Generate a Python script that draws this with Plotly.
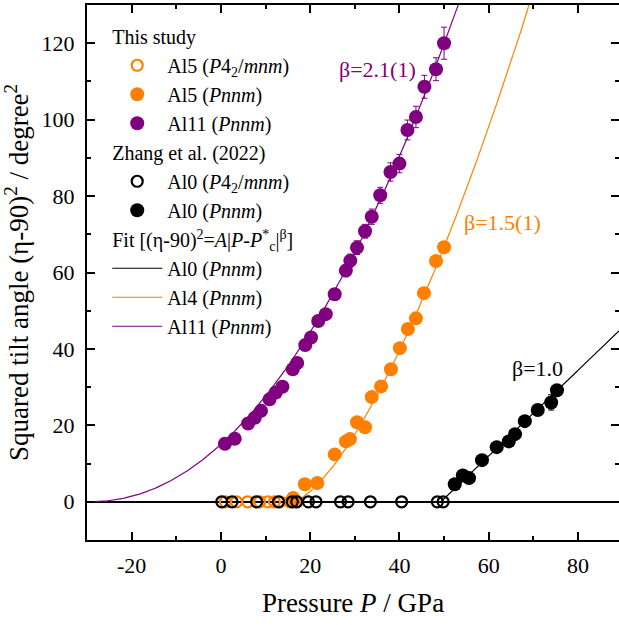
import numpy as np
import plotly.graph_objects as go

# ---------------- data ----------------
# This study: Al5 (P4_2/mnm) - open orange, on the zero line
al5_tet_P = [1.0, 3.5, 6.0, 8.7, 10.5, 12.0, 13.2, 15.5, 16.6]
al5_tet_y = [0, 0, 0, 0, 0, 0, 0, 0, 0]

# This study: Al5 (Pnnm) - filled orange
al5_P = [16.2, 18.8, 21.6, 25.5, 28.0, 28.9, 30.5, 32.3, 33.8, 35.9, 38.1, 40.1, 41.9, 43.7, 45.5, 48.2, 50.0]
al5_y = [1.0, 4.6, 4.9, 12.4, 15.8, 16.4, 20.8, 19.5, 27.4, 30.2, 34.7, 40.2, 45.2, 48.0, 54.6, 63.0, 66.6]
al5_err = [0.6] * 17

# This study: Al11 (Pnnm) - filled purple
al11_P = [0.9, 3.1, 6.1, 7.6, 9.0, 10.9, 12.3, 13.8, 16.1, 17.1, 18.9, 20.2, 21.8, 23.5,
          25.5, 28.0, 29.0, 30.5, 32.3, 33.8, 35.7, 38.0, 40.0, 41.8, 43.7, 45.6, 48.2, 50.0]
al11_y = [15.2, 16.5, 20.5, 22.0, 23.8, 26.8, 28.6, 30.1, 34.7, 36.3, 41.0, 43.0, 47.3, 49.1,
          54.3, 60.5, 63.1, 66.5, 70.8, 74.6, 80.2, 86.3, 88.5, 97.3, 100.7, 108.6, 113.2, 120.0]
al11_err = [0.8, 0.8, 0.9, 0.9, 1.0, 1.0, 1.0, 1.1, 1.2, 1.2, 1.3, 1.3, 1.4, 1.4,
            1.5, 1.6, 1.7, 1.8, 1.8, 2.0, 2.1, 2.4, 2.4, 2.6, 2.8, 3.0, 3.0, 4.2]

# Zhang et al. (2022): Al0 (P4_2/mnm) - open black, on the zero line
al0_tet_P = [0.2, 2.5, 8.0, 12.9, 16.0, 17.0, 19.6, 21.3, 26.8, 28.5, 33.5, 40.5, 48.5, 49.8]
al0_tet_y = [0] * 14

# Zhang et al. (2022): Al0 (Pnnm) - filled black
al0_P = [52.4, 54.2, 55.6, 58.5, 61.8, 64.5, 65.9, 68.1, 71.0, 74.0, 75.3]
al0_y = [4.6, 6.9, 6.2, 10.9, 14.3, 15.8, 17.7, 21.1, 24.0, 26.0, 29.2]
al0_err = [0.6, 0.6, 0.6, 0.7, 0.8, 0.8, 0.9, 1.3, 1.0, 2.0, 1.0]

# Fit parameters  (eta-90)^2 = A |P - Pc|^beta
fit_names = ["Al0", "Al4", "Al11"]
fit_A = [1.12, 0.336, 0.0122]
fit_Pc = [49.3, 16.0, -29.6]
fit_beta = [1.0, 1.5, 2.1]
fit_labels = ["β=1.0", "β=1.5(1)", "β=2.1(1)"]

x_ticks = [-20, 0, 20, 40, 60, 80]
y_ticks = [0, 20, 40, 60, 80, 100, 120]

# ---------------- styling ----------------
ORANGE = "#ff8000"
PURPLE = "#800080"
BLACK = "#000000"
FONT = "Liberation Serif"
XR = [-30, 89.2]
YR = [-10, 130]

fig = go.Figure()

fit_colors = [BLACK, ORANGE, PURPLE]
for i, (A, Pc, b, col) in enumerate(zip(fit_A, fit_Pc, fit_beta, fit_colors)):
    P = np.linspace(max(Pc, XR[0]), XR[1], 600)
    y = A * np.abs(P - Pc) ** b
    fig.add_trace(go.Scatter(
        x=P, y=y, mode="lines", line=dict(color=col, width=1.2),
        name=f"{fit_names[i]} (<i>Pnnm</i>)",
        legendgroup="fit",
        legendgrouptitle_text="Fit [(η-90)<sup>2</sup>=<i>A</i>|<i>P</i>-<i>P</i><sup>*</sup><sub>c</sub>|<sup>β</sup>]",
        legendrank=6 + i, hoverinfo="skip"))

fig.add_trace(go.Scatter(
    x=al5_tet_P, y=al5_tet_y, mode="markers",
    marker=dict(symbol="circle-open", size=11, color=ORANGE, line=dict(width=2.2, color=ORANGE)),
    name="Al5 (<i>P</i>4<sub>2</sub>/<i>mnm</i>)", legendgroup="this",
    legendgrouptitle_text="This study", legendrank=1))

fig.add_trace(go.Scatter(
    x=al5_P, y=al5_y, mode="markers",
    marker=dict(symbol="circle", size=14, color=ORANGE),
    error_y=dict(type="data", array=al5_err, color=ORANGE, thickness=1, width=3),
    name="Al5 (<i>Pnnm</i>)", legendgroup="this", legendrank=2))

fig.add_trace(go.Scatter(
    x=al11_P, y=al11_y, mode="markers",
    marker=dict(symbol="circle", size=14, color=PURPLE),
    error_y=dict(type="data", array=al11_err, color=PURPLE, thickness=1, width=3),
    name="Al11 (<i>Pnnm</i>)", legendgroup="this", legendrank=3))

fig.add_trace(go.Scatter(
    x=al0_tet_P, y=al0_tet_y, mode="markers",
    marker=dict(symbol="circle-open", size=11, color=BLACK, line=dict(width=2.2, color=BLACK)),
    name="Al0 (<i>P</i>4<sub>2</sub>/<i>mnm</i>)", legendgroup="zhang",
    legendgrouptitle_text="Zhang et al. (2022)", legendrank=4))

fig.add_trace(go.Scatter(
    x=al0_P, y=al0_y, mode="markers",
    marker=dict(symbol="circle", size=14, color=BLACK),
    error_y=dict(type="data", array=al0_err, color=BLACK, thickness=1, width=3),
    name="Al0 (<i>Pnnm</i>)", legendgroup="zhang", legendrank=5))

# beta annotations
ann_pos = [(71.0, 35.0), (63.2, 73.2), (35.2, 113.0)]
for (ax_, ay_), txt, col in zip(ann_pos, fit_labels, fit_colors):
    fig.add_annotation(x=ax_, y=ay_, text=txt, showarrow=False,
                       font=dict(family=FONT, size=22, color=col))

axis_common = dict(
    showline=True, linecolor="black", linewidth=2, mirror="ticks",
    ticks="inside", ticklen=8, tickwidth=1.5, tickcolor="black",
    showgrid=False, tickfont=dict(family=FONT, size=22, color="black"),
)

fig.update_xaxes(
    range=XR, tickvals=x_ticks, ticktext=[str(v) for v in x_ticks],
    minor=dict(ticks="inside", ticklen=4, tickwidth=1.5, tickcolor="black", dtick=10, tick0=0, showgrid=False),
    zeroline=False,
    title=dict(text="Pressure <i>P</i> / GPa", font=dict(family=FONT, size=27, color="black"), standoff=16),
    ticklabelstandoff=5,
    **axis_common)
fig.update_yaxes(
    range=YR, tickvals=y_ticks, ticktext=[str(v) for v in y_ticks],
    minor=dict(ticks="inside", ticklen=4, tickwidth=1.5, tickcolor="black", dtick=10, tick0=0, showgrid=False),
    zeroline=True, zerolinecolor="black", zerolinewidth=2,
    title=dict(text="Squared tilt angle (η-90)<sup>2</sup> / degree<sup>2</sup>",
               font=dict(family=FONT, size=27, color="black"), standoff=6),
    ticklabelstandoff=6,
    **axis_common)

fig.update_layout(
    width=619, height=625,
    margin=dict(l=87, r=0, t=5, b=85, autoexpand=False),
    plot_bgcolor="white", paper_bgcolor="white",
    showlegend=True,
    legend=dict(x=0.038, y=0.978, xanchor="left", yanchor="top",
                font=dict(family=FONT, size=20, color="black"),
                grouptitlefont=dict(family=FONT, size=20, color="black"),
                tracegroupgap=0, itemwidth=50, bgcolor="rgba(0,0,0,0)",
                traceorder="grouped"),
)

fig.write_html("out.html")
